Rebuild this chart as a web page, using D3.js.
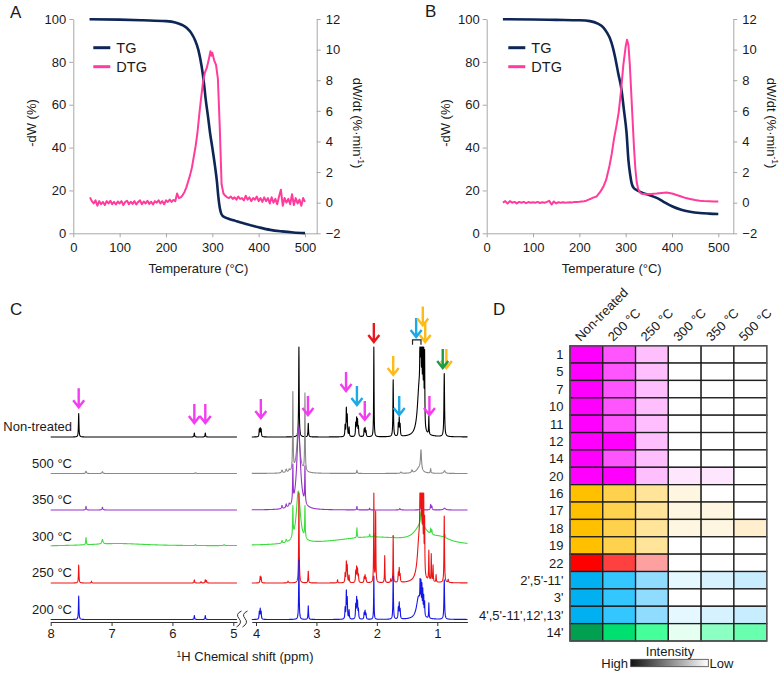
<!DOCTYPE html>
<html><head><meta charset="utf-8">
<script src="https://cdn.jsdelivr.net/npm/d3@7"></script>
<style>
body{margin:0;background:#fff}
svg{display:block}
text{font-family:"Liberation Sans",Arial,sans-serif;fill:#1a1a1a}
</style>
</head><body>
<svg id="c" width="784" height="674"></svg>
<script>
// ---------------- DATA ----------------
// Panel A/B : thermogravimetry
const tempTicks = [0,100,200,300,400,500];
const tgLeftTicks = [0,20,40,60,80,100];
const dtgRightTicks = [-2,0,2,4,6,8,10,12];

const tgA = [[35,99.9],[100,99.7],[150,99.4],[200,99.0],[220,98.4],[235,97.2],[245,95.8],[255,93.3],[263,90],[270,85.5],[277,77.8],[282,70],[286,62],[291,54],[295,47],[300,40],[306,31],[310,24],[313,17],[316,12],[319,9.3],[324,7.8],[335,6.8],[350,5.8],[375,4.2],[400,2.8],[425,1.6],[450,0.9],[475,0.4],[500,0.1]];
const dtgA = [[36,0.35],[40,0.1],[44,-0.05],[48,0.15],[52,-0.2],[56,0.1],[60,-0.1],[64,0.05],[68,-0.15],[72,0.1],[76,-0.05],[80,0.12],[84,-0.1],[88,0.05],[92,-0.12],[96,0.08],[100,-0.05],[104,0.1],[108,-0.15],[112,0.05],[116,0.12],[120,-0.1],[124,0.06],[128,-0.08],[132,0.1],[136,-0.12],[140,0.05],[144,0.15],[148,-0.1],[152,0.08],[156,-0.05],[160,0.12],[164,-0.08],[168,0.06],[172,-0.12],[176,0.1],[180,0],[184,0.15],[188,-0.05],[192,0.1],[196,-0.1],[200,0.15],[204,0.05],[208,0.2],[212,0.05],[216,0.18],[220,0.1],[224,0.6],[228,0.3],[232,0.35],[236,0.5],[240,0.7],[244,1.0],[248,1.4],[252,1.8],[256,2.3],[260,3.0],[264,3.7],[268,4.6],[272,5.8],[276,6.9],[280,7.9],[284,8.5],[288,8.8],[292,9.3],[294,9.6],[296,9.9],[298,9.6],[300,9.8],[304,9.3],[308,9.0],[312,8.1],[316,5.0],[320,1.2],[324,0.6],[328,0.45],[332,0.35],[336,0.3],[340,0.4],[344,0.25],[348,0.35],[352,0.2],[356,0.4],[360,0.25],[364,0.3],[368,0.15],[372,0.45],[376,0.2],[380,0.35],[384,0.1],[388,0.3],[392,0.2],[396,0.4],[400,0.1],[404,0.3],[408,0.05],[412,0.35],[416,0.1],[420,0.3],[424,-0.05],[428,0.35],[432,0],[436,0.25],[440,-0.1],[444,0.4],[448,0.85],[452,-0.2],[456,0.3],[460,0],[464,0.25],[468,-0.1],[472,0.55],[476,-0.15],[480,0.3],[484,-0.05],[488,0.2],[492,-0.2],[496,0.3],[500,0.05]];

const tgB = [[35,99.9],[100,99.8],[150,99.6],[200,99.4],[223,99.0],[240,97.8],[252,96],[260,93.5],[266,91],[272,87],[277,82.4],[284,74.6],[291,67],[296,58],[302,46.7],[306,34],[310,27],[313,23.3],[318,21],[324,20.2],[338,18.7],[352,17.8],[367,16.5],[385,14.3],[400,12.6],[420,11],[439,10.1],[460,9.5],[480,9.2],[500,9.0]];
const dtgB = [[35,0],[40,0.1],[45,-0.05],[50,0.1],[55,0],[60,0.05],[65,-0.05],[70,0.05],[75,0],[80,0.05],[85,-0.03],[90,0.04],[95,0],[100,0.03],[105,0],[110,0.05],[115,-0.02],[120,0.03],[125,0],[130,0.05],[135,0.12],[140,-0.12],[145,0.08],[150,-0.05],[155,0.03],[160,0],[165,0.03],[170,0],[175,0.02],[180,0.03],[185,0.02],[190,0.04],[195,0.05],[200,0.06],[205,0.08],[210,0.1],[215,0.13],[220,0.2],[225,0.26],[230,0.33],[237,0.4],[245,0.7],[252,1.05],[258,1.5],[265,2.4],[270,3.2],[275,4.2],[280,5.0],[285,5.9],[290,7.3],[295,9.0],[300,10.2],[303,10.65],[306,10.3],[309,9.0],[312,7.2],[315,5.4],[318,3.6],[321,2.2],[324,1.3],[327,0.9],[331,0.66],[335,0.58],[345,0.55],[355,0.57],[367,0.6],[378,0.64],[388,0.66],[400,0.6],[410,0.5],[420,0.4],[430,0.3],[439,0.24],[450,0.17],[460,0.13],[468,0.11],[480,0.09],[490,0.08],[500,0.07]];

// Panel C : 1H NMR spectra (peaks: ppm, intensity, half-width ppm)
const specNames = ['Non-treated','500 °C','350 °C','300 °C','250 °C','200 °C'];
const ppmTicksLeft = [8,7,6,5];
const ppmTicksRight = [4,3,2,1];
const peaksNT = [[7.54,26,.005],[5.64,4.5,.005],[5.46,4.5,.005],[3.945,8,.005],[3.93,9,.005],[3.915,8,.005],[3.29,100,.005],[3.135,15,.005],[2.525,12,.005],[2.505,30,.005],[2.49,22,.005],[2.46,10,.005],[2.35,14,.005],[2.335,19,.005],[2.32,17,.005],[2.305,10,.005],[2.21,8,.005],[2.195,9,.005],[2.18,6,.005],[2.05,100,.004],[1.73,63,.005],[1.645,13,.005],[1.63,19,.005],[1.615,12,.005],[1.30,55,.035],[1.285,100,.004],[1.27,100,.004],[1.255,100,.004],[1.24,100,.004],[1.225,100,.004],[1.21,80,.004],[1.14,20,.004],[0.885,70,.006]];
const peaks500 = [[7.42,2.5,.008],[7.15,2,.008],[5.62,0.8,.008],[3.57,3,.01],[3.5,3.5,.01],[3.45,2.5,.01],[3.39,86,.005],[3.30,50,.03],[3.19,86,.005],[2.33,3.5,.006],[1.6,1.5,.01],[1.42,3,.01],[1.30,6,.05],[1.27,22,.01],[1.11,5,.006],[0.88,3,.015]];
const peaks350 = [[7.42,4,.006],[7.15,3,.008],[3.57,3.5,.008],[3.5,4,.008],[3.45,3,.008],[3.39,40,.005],[3.295,92,.035],[3.19,40,.005],[2.33,4,.005],[2.12,2,.005],[1.62,1.5,.01],[1.27,4,.01],[1.11,6,.006],[1.09,4,.006],[0.88,2,.02]];
const peaks300 = [[6.9,3,.6],[7.42,8,.006],[7.15,5,.012],[5.62,1,.008],[5.15,1,.01],[3.57,3,.008],[3.5,3,.008],[3.39,33,.005],[3.30,58,.04],[3.19,35,.005],[2.1,10,.8],[2.33,11,.005],[2.12,3,.005],[2.05,4,.005],[1.73,2,.005],[1.27,18,.12],[1.27,14,.01],[0.95,6,.2],[1.11,6,.005],[1.09,5,.005],[0.88,4,.01]];
const peaks250 = [[7.54,20,.005],[7.33,2,.005],[5.64,3.5,.005],[5.53,1.5,.005],[5.46,3.5,.005],[5.44,2.5,.005],[3.93,7,.005],[3.915,6,.005],[3.47,2,.008],[3.29,100,.005],[3.135,13,.005],[2.65,3.5,.005],[2.525,10,.005],[2.505,22,.005],[2.49,18,.005],[2.46,8,.005],[2.35,12,.005],[2.335,16,.005],[2.32,14,.005],[2.305,8,.005],[2.21,6,.005],[2.195,8,.005],[2.18,5,.005],[2.05,100,.004],[2.02,78,.004],[1.87,30,.004],[1.77,4,.005],[1.73,52,.004],[1.645,10,.005],[1.63,15,.005],[1.615,8,.005],[1.30,50,.035],[1.285,100,.004],[1.27,100,.004],[1.255,100,.004],[1.24,90,.004],[1.225,80,.004],[1.21,60,.004],[1.14,33,.004],[1.10,30,.004],[1.07,18,.004],[1.02,8,.004],[0.885,74,.005],[0.82,3.5,.006]];
const peaks200 = [[7.54,26,.005],[5.64,4.5,.005],[5.46,4.5,.005],[3.945,8,.005],[3.93,11,.005],[3.915,8,.005],[3.29,66,.005],[3.135,15,.005],[2.525,12,.005],[2.505,30,.005],[2.49,22,.005],[2.46,10,.005],[2.35,15,.005],[2.335,22,.005],[2.32,18,.005],[2.305,10,.005],[2.21,7,.005],[2.195,9,.005],[2.18,6,.005],[2.05,48,.004],[1.73,48,.005],[1.645,12,.005],[1.63,17,.005],[1.615,10,.005],[1.31,25,.04],[1.285,25,.004],[1.27,28,.004],[1.255,28,.004],[1.24,25,.004],[1.225,20,.004],[1.21,15,.004],[1.14,17,.004],[0.885,44,.006]];
const specPeaks = [peaksNT,peaks500,peaks350,peaks300,peaks250,peaks200];
// annotation arrows: ppm, colour group, tip height (intensity units above Non-treated baseline)
const arrows = [[7.54,'m',33],[5.64,'m',15.5],[5.46,'m',15.5],[3.92,'m',21],[3.14,'m',24.5],[2.51,'m',51],[2.33,'c',35.5],[2.20,'m',19],[2.05,'r',105.5],[1.73,'o',69],[1.63,'c',24.5],[1.35,'c',111],[1.24,'o',124],[1.20,'o',105.5],[1.13,'m',24.5],[0.85,'o',76.7],[0.91,'g',76.7]];
const bracket = [1.41,1.27,108];

// Panel D : heat map
const hmCols = ['Non-treated','200 °C','250 °C','300 °C','350 °C','500 °C'];
const hmRows = ['1','5','7','10','11','12','14','20','16','17','18','19','22',"2',5'-11'","3'","4',5'-11',12',13'","14'"];
const hmGroup = ['m','m','m','m','m','m','m','m','o','o','o','o','r','c','c','c','g'];
const hmValues = [
 [1,.7,.35,0,0,0],[1,.7,.35,0,0,0],[1,.7,.35,0,0,0],[1,.7,.35,0,0,0],[1,.7,.35,0,0,0],
 [1,1,.35,0,0,0],[1,.7,.35,0,0,0],[1,1,.35,.1,.1,0],
 [1,.7,.35,.1,0,0],[1,.7,.35,.1,.1,0],[1,.7,.35,.1,.1,.2],[1,.7,.35,0,0,0],
 [1,.7,.35,0,0,0],
 [1,.7,.35,.1,.15,.2],[1,.7,.35,0,0,0],[1,.7,.35,.1,.15,.2],
 [1,.7,.35,.1,.25,.3]
];

// ---------------- STYLE ----------------
const FONT = 13;
const groupColor = {m:'#F43CF0',c:'#1DA8E6',r:'#E8171F',o:'#FDBB16',g:'#1F9B45'};
const palStops = [0,.1,.2,.35,.7,1];
const palettes = {
 m:['#FFFFFF','#FFE6FF','#FFD6FF','#FFBFFF','#FF55FF','#FF00FF'],
 o:['#FFFFFF','#FFF6E1','#FFEFCE','#FFE49A','#FFD24D','#FFC000'],
 r:['#FFFFFF','#FFE8E8','#FFD0D0','#FFA0A0','#FF4040','#FF0000'],
 c:['#FFFFFF','#E5F7FF','#C8EDFF','#8FDCFF','#33C6FF','#00B0F0'],
 g:['#FFFFFF','#E5FFF0','#B0FFD6','#44FF9A','#00E070','#00A050']
};
const specColors = ['#000000','#8a8a8a','#9533C9','#3BDC3B','#EE1414','#1515E6'];

const svg = d3.select('#c');

function panelLetter(t,x,y){
  svg.append('text').attr('x',x).attr('y',y).attr('font-size',17).text(t);
}

// ---------------- A / B ----------------
function drawTG(cfg){
  const xMax = 500*(cfg.right-cfg.x0)/(cfg.x500-cfg.x0);
  const x = d3.scaleLinear([0,xMax],[cfg.x0,cfg.right]);
  const yL = d3.scaleLinear([0,100],[233.3,19]);
  const yR = d3.scaleLinear([-2,12],[233.3,19]);
  const g = svg.append('g');
  const styleAxis = s=>{
    s.selectAll('path,line').attr('stroke','#a8a8a8');
    s.selectAll('text').attr('font-size',FONT).attr('fill','#1a1a1a').attr('font-family','"Liberation Sans",Arial,sans-serif');
  };
  g.append('g').attr('transform','translate(0,233.3)')
    .call(d3.axisBottom(x).tickValues(tempTicks).tickSize(4).tickPadding(5).tickSizeOuter(0)).call(styleAxis);
  g.append('g').attr('transform',`translate(${cfg.x0},0)`)
    .call(d3.axisLeft(yL).tickValues(tgLeftTicks).tickSize(4).tickPadding(3).tickSizeOuter(0)).call(styleAxis);
  g.append('g').attr('transform',`translate(${cfg.right},0)`)
    .call(d3.axisRight(yR).tickValues(dtgRightTicks).tickSize(4).tickPadding(5).tickSizeOuter(0)).call(styleAxis);
  g.append('path').datum(cfg.tg).attr('fill','none').attr('stroke','#0E2656').attr('stroke-width',2.6)
    .attr('d',d3.line().x(d=>x(d[0])).y(d=>yL(d[1])).curve(d3.curveMonotoneX));
  g.append('path').datum(cfg.dtg).attr('fill','none').attr('stroke','#FF3C9B').attr('stroke-width',2)
    .attr('stroke-linejoin','round')
    .attr('d',d3.line().x(d=>x(d[0])).y(d=>yR(d[1])));
  // legend
  const lx = cfg.legX;
  [['TG','#0E2656',47.7],['DTG','#FF3C9B',66.7]].forEach(([t,c,yy])=>{
    g.append('line').attr('x1',lx).attr('x2',lx+17).attr('y1',yy).attr('y2',yy).attr('stroke',c).attr('stroke-width',3);
    g.append('text').attr('x',lx+23).attr('y',yy+5).attr('font-size',14.5).text(t);
  });
  // axis titles
  const cx = (cfg.x0+cfg.right)/2;
  g.append('text').attr('x',cfg.x0+ (cfg.x500-cfg.x0)*0.54).attr('y',272.5).attr('text-anchor','middle').attr('font-size',FONT).text('Temperature (°C)');
  g.append('text').attr('transform',`translate(${cfg.ylab},123) rotate(-90)`).attr('text-anchor','middle').attr('dy','0.35em').attr('font-size',FONT).text('-dW (%)');
  const rt = g.append('text').attr('transform',`translate(${cfg.rlab},123) rotate(90)`).attr('text-anchor','middle').attr('dy','0.35em').attr('font-size',FONT);
  rt.append('tspan').text('dW/dt (%·min');
  rt.append('tspan').attr('font-size',8.5).attr('dy',-5).text('-1');
  rt.append('tspan').attr('dy',5).text(')');
}
drawTG({tg:tgA,dtg:dtgA,x0:73.3,x500:305,right:316.7,legX:93.3,ylab:31.7,rlab:358});
drawTG({tg:tgB,dtg:dtgB,x0:486.7,x500:718.3,right:733.3,legX:508.3,ylab:445,rlab:771.5});
panelLetter('A',10,18);
panelLetter('B',425,17);

// ---------------- C ----------------
(function(){
  const xL = d3.scaleLinear([8,5],[50.7,233.3]);
  const xR = d3.scaleLinear([4,1],[256,437.3]);
  const segL = [8,4.94], segR = [4.07,0.5];
  const base = d3.scalePoint(specNames,[437,619.5]);
  const yI = d3.scaleLinear([0,100],[0,90]);
  const g = svg.append('g');
  function spectrum(peaks, seg){
    let xs = d3.range(seg[0], seg[1], -0.002);
    peaks.forEach(p=>{ if(p[0]<=seg[0] && p[0]>=seg[1]) xs.push(p[0]); });
    xs.push(seg[1]);
    xs.sort((a,b)=>b-a);
    return xs.map(x=>{
      let v=0;
      peaks.forEach(([c,h,w])=>{ const t=(x-c)/w; v+=h/(1+t*t); });
      return [x, Math.min(v,100)];
    });
  }
  specNames.forEach((name,i)=>{
    const b = base(name);
    [[xL,segL],[xR,segR]].forEach(([sc,seg])=>{
      const data = spectrum(specPeaks[i], seg);
      g.append('path').datum(data).attr('fill','none').attr('stroke',specColors[i]).attr('stroke-width',1.1)
        .attr('stroke-linejoin','round')
        .attr('d',d3.line().x(d=>sc(d[0])).y(d=>b-yI(d[1])));
    });
    g.append('text').attr('x',72).attr('y',b-6).attr('text-anchor','end').attr('font-size',FONT).text(name);
  });
  // axes
  const ay = 622;
  const styleAxis = s=>{
    s.selectAll('path,line').attr('stroke','#333');
    s.selectAll('text').attr('font-size',FONT).attr('fill','#1a1a1a').attr('font-family','"Liberation Sans",Arial,sans-serif');
  };
  const xLa = xL.copy().domain([8,4.94]).range([xL(8),xL(4.94)]);
  const xRa = xR.copy().domain([4.07,0.5]).range([xR(4.07),xR(0.5)]);
  g.append('g').attr('transform',`translate(0,${ay})`).call(d3.axisBottom(xLa).tickValues(ppmTicksLeft).tickFormat(d3.format('d')).tickSize(4).tickPadding(3).tickSizeOuter(0)).call(styleAxis);
  g.append('g').attr('transform',`translate(0,${ay})`).call(d3.axisBottom(xRa).tickValues(ppmTicksRight).tickFormat(d3.format('d')).tickSize(4).tickPadding(3).tickSizeOuter(0)).call(styleAxis);
  // break marks
  [239,245].forEach(cx=>{
    g.append('path').attr('fill','none').attr('stroke','#333').attr('stroke-width',1)
      .attr('d',`M${cx+2.5},611 Q${cx-4},614 ${cx},618.5 Q${cx+4},623 ${cx-2.5},627`);
  });
  const xt = g.append('text').attr('x',245).attr('y',661).attr('text-anchor','middle').attr('font-size',FONT);
  xt.append('tspan').attr('font-size',8.5).attr('dy',-4).text('1');
  xt.append('tspan').attr('dy',4).text('H Chemical shift (ppm)');
  // arrows
  const b0 = base(specNames[0]);
  const order = arrows.slice().sort((a,b)=> (a[1]==='g')-(b[1]==='g'));
  order.forEach(([ppm,grp,h])=>{
    const x = ppm>4.5? xL(ppm): xR(ppm);
    const tip = b0 - yI(h);
    g.append('path').attr('fill','none').attr('stroke',groupColor[grp]).attr('stroke-width',2.4)
      .attr('stroke-linejoin','miter')
      .attr('d',`M${x},${tip-19} L${x},${tip} M${x-5.5},${tip-7} L${x},${tip} L${x+5.5},${tip-7}`);
  });
  const by = b0 - yI(bracket[2]);
  g.append('path').attr('fill','none').attr('stroke','#222').attr('stroke-width',1.2)
    .attr('d',`M${xR(bracket[0])},${by+5} L${xR(bracket[0])},${by} L${xR(bracket[1])},${by} L${xR(bracket[1])},${by+5}`);
})();
panelLetter('C',10,315);

// ---------------- D ----------------
(function(){
  const x = d3.scaleBand(hmCols,[570,766.7]);
  const y = d3.scaleBand(hmRows,[345.7,641]);
  const g = svg.append('g');
  const scales = {};
  Object.keys(palettes).forEach(k=>{ scales[k]=d3.scaleLinear(palStops,palettes[k]).interpolate(d3.interpolateRgb); });
  hmRows.forEach((r,i)=>{
    hmCols.forEach((c,j)=>{
      g.append('rect').attr('x',x(c)).attr('y',y(r)).attr('width',x.bandwidth()).attr('height',y.bandwidth())
        .attr('fill',scales[hmGroup[i]](hmValues[i][j])).attr('stroke','#1e1e1e').attr('stroke-width',1.3);
    });
    g.append('text').attr('x',563.5).attr('y',y(r)+y.bandwidth()/2).attr('dy','0.36em').attr('text-anchor','end').attr('font-size',FONT).text(r);
  });
  g.append('rect').attr('x',570).attr('y',345.7).attr('width',196.7).attr('height',295.3).attr('fill','none').attr('stroke','#555').attr('stroke-width',1.4);
  hmCols.forEach(c=>{
    g.append('text').attr('transform',`translate(${x(c)+x.bandwidth()/2-6},342) rotate(-45)`).attr('font-size',FONT).text(c);
  });
  // legend
  const defs = svg.append('defs');
  const lg = defs.append('linearGradient').attr('id','ig');
  lg.append('stop').attr('offset','0%').attr('stop-color','#111');
  lg.append('stop').attr('offset','100%').attr('stop-color','#fff');
  g.append('rect').attr('x',630.7).attr('y',659.3).attr('width',77.6).attr('height',7.4).attr('fill','url(#ig)').attr('stroke','#444').attr('stroke-width',0.8);
  g.append('text').attr('x',670).attr('y',655.5).attr('text-anchor','middle').attr('font-size',FONT).text('Intensity');
  g.append('text').attr('x',628).attr('y',667.5).attr('text-anchor','end').attr('font-size',FONT).text('High');
  g.append('text').attr('x',709.5).attr('y',667.5).attr('font-size',FONT).text('Low');
})();
panelLetter('D',493,315);
</script>
</body></html>
